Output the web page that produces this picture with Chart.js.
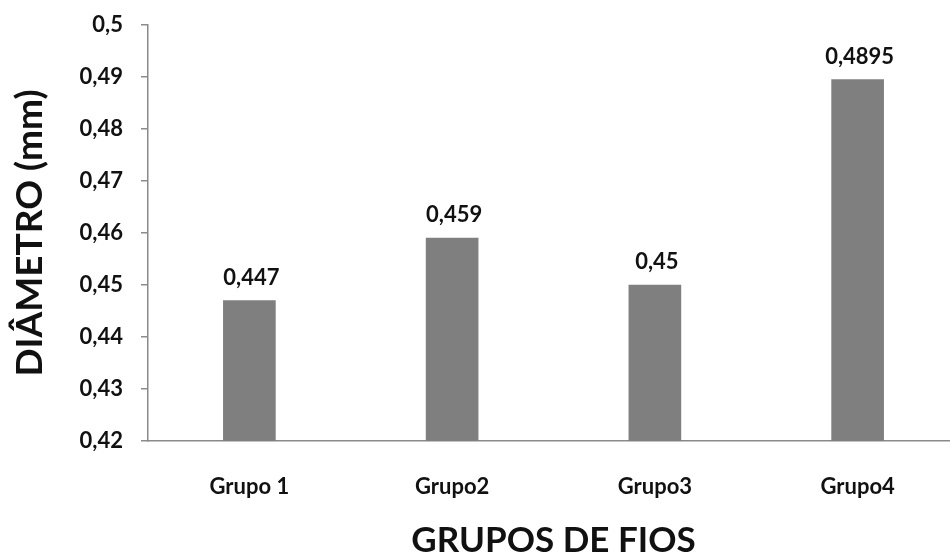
<!DOCTYPE html>
<html>
<head>
<meta charset="utf-8">
<script src="https://cdn.jsdelivr.net/npm/chart.js@4/dist/chart.umd.min.js"></script>
<style>
  html, body { margin: 0; padding: 0; background: #ffffff; overflow: hidden; }
  #wrap { position: relative; width: 959px; height: 560px; }
</style>
</head>
<body>
<div id="wrap"><canvas id="chart"></canvas></div>
<script>
// Diameter of each wire group (mm)
const categories = ['Grupo 1', 'Grupo2', 'Grupo3', 'Grupo4'];
const diameters = [0.447, 0.459, 0.45, 0.4895];
const yTickValues = [0.42, 0.43, 0.44, 0.45, 0.46, 0.47, 0.48, 0.49, 0.5];

const FONT = 'Lato, "Open Sans", sans-serif';
const AXIS_GREY = '#8a8a8a';

const toComma = v => String(Number(v.toFixed(4))).replace('.', ',');

// Writes each bar's value just above it
const valueLabels = {
  id: 'valueLabels',
  afterDatasetsDraw(chart) {
    const ctx = chart.ctx;
    const meta = chart.getDatasetMeta(0);
    ctx.save();
    ctx.font = 'bold 22px ' + FONT;
    ctx.fillStyle = '#111111';
    ctx.textAlign = 'center';
    ctx.textBaseline = 'bottom';
    meta.data.forEach((bar, i) => {
      ctx.fillText(toComma(chart.data.datasets[0].data[i]), bar.x + 2, bar.y - 12);
    });
    ctx.restore();
  }
};

new Chart(document.getElementById('chart'), {
  type: 'bar',
  data: {
    labels: categories,
    datasets: [{
      data: diameters,
      backgroundColor: '#7f7f7f',
      borderWidth: 0,
      barThickness: 52
    }]
  },
  options: {
    responsive: true,
    maintainAspectRatio: false,
    animation: false,
    layout: { padding: { top: 25, right: 0, bottom: 0, left: 0 } },
    plugins: {
      legend: { display: false },
      tooltip: { enabled: false }
    },
    scales: {
      x: {
        grid: { display: false, drawTicks: false },
        border: { display: true, color: AXIS_GREY, width: 1.5 },
        ticks: {
          color: '#111111',
          font: { family: FONT, size: 22, weight: 'bold' },
          padding: 33
        },
        title: {
          display: true,
          text: 'GRUPOS DE FIOS',
          color: '#111111',
          font: { family: FONT, size: 35, weight: 'bold', lineHeight: 1 },
          padding: { top: 0, bottom: 2 }
        },
        afterFit(scale) {
          scale.height = 119;
          scale.paddingLeft = 0;
          scale.paddingRight = 0;
        }
      },
      y: {
        min: 0.42,
        max: 0.5,
        afterBuildTicks(scale) {
          scale.ticks = yTickValues.map(v => ({ value: v }));
        },
        grid: {
          drawOnChartArea: false,
          drawTicks: true,
          tickLength: 7,
          color: AXIS_GREY,
          lineWidth: 1.5
        },
        border: { display: true, color: AXIS_GREY, width: 1.5 },
        ticks: {
          color: '#111111',
          font: { family: FONT, size: 22, weight: 'bold' },
          padding: 18,
          callback: v => toComma(v)
        },
        title: {
          display: true,
          text: 'DIÂMETRO (mm)',
          color: '#111111',
          font: { family: FONT, size: 37, weight: 'bold', lineHeight: 1.2 },
          padding: { top: 8, bottom: 0 }
        },
        afterFit(scale) {
          scale.width = 148;
          scale.paddingTop = 0;
          scale.paddingBottom = 0;
        }
      }
    }
  },
  plugins: [valueLabels]
});
</script>
</body>
</html>
